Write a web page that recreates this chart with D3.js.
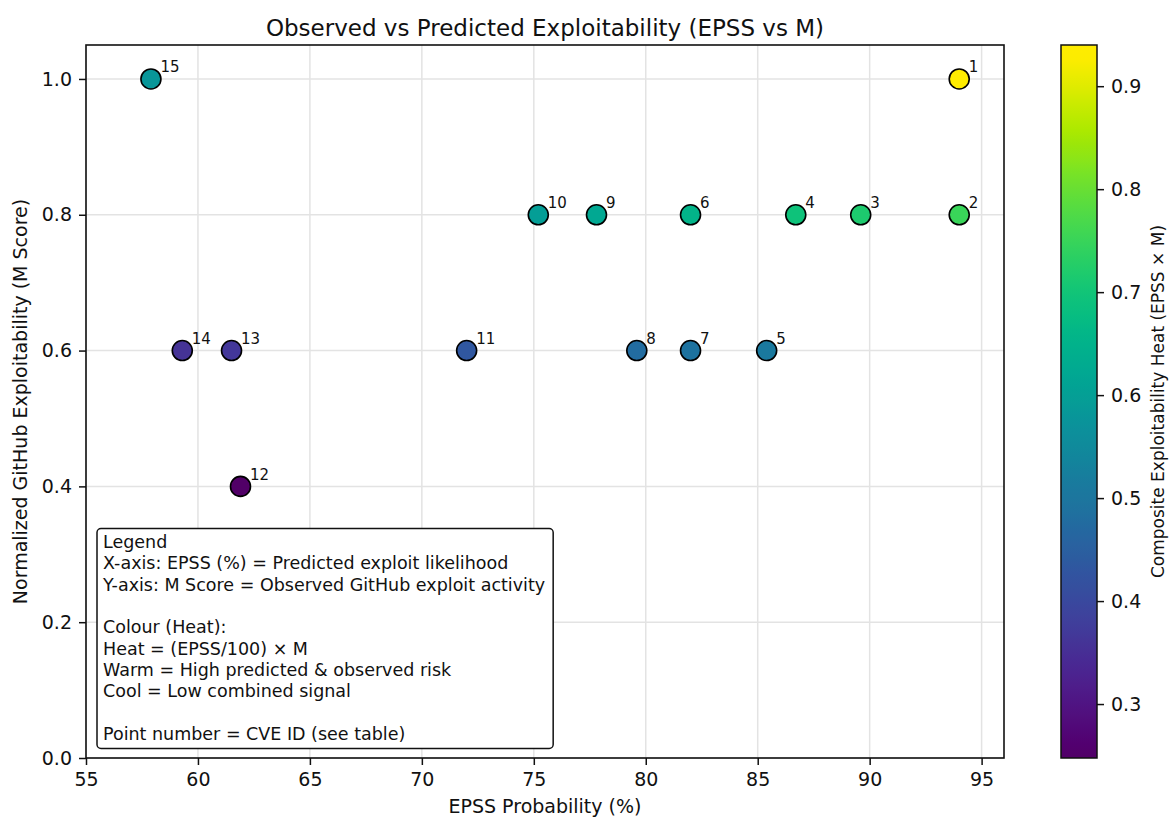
<!DOCTYPE html>
<html>
<head>
<meta charset="utf-8">
<script src="https://cdn.jsdelivr.net/npm/d3@7"></script>
<style>
  html, body { margin: 0; padding: 0; background: #fff; }
  svg { display: block; font-family: "DejaVu Sans", sans-serif; }
</style>
</head>
<body>
<svg id="chart" width="1171" height="818"></svg>
<script>
// ---- Data ----
const pointIds = [1, 2, 3, 4, 5, 6, 7, 8, 9, 10, 11, 12, 13, 14, 15];
const epssValues = [94.0, 94.0, 89.6, 86.7, 85.4, 82.0, 82.0, 79.6, 77.8, 75.2, 72.0, 61.9, 61.5, 59.3, 57.9];
const mScores = [1.0, 0.8, 0.8, 0.8, 0.6, 0.8, 0.6, 0.6, 0.8, 0.8, 0.6, 0.4, 0.6, 0.6, 1.0];
const xTicks = [55, 60, 65, 70, 75, 80, 85, 90, 95];
const yTicks = [0.0, 0.2, 0.4, 0.6, 0.8, 1.0];
const cbTicks = [0.3, 0.4, 0.5, 0.6, 0.7, 0.8, 0.9];
const legendLines = [
  "Legend",
  "X-axis: EPSS (%) = Predicted exploit likelihood",
  "Y-axis: M Score = Observed GitHub exploit activity",
  "",
  "Colour (Heat):",
  "Heat = (EPSS/100) \u00d7 M",
  "Warm = High predicted & observed risk",
  "Cool = Low combined signal",
  "",
  "Point number = CVE ID (see table)"
];
const titleText = "Observed vs Predicted Exploitability (EPSS vs M)";
const xLabelText = "EPSS Probability (%)";
const yLabelText = "Normalized GitHub Exploitability (M Score)";
const cbLabelText = "Composite Exploitability Heat (EPSS \u00d7 M)";

const heat = epssValues.map((e, i) => (e / 100) * mScores[i]);
const points = pointIds.map((id, i) => ({ id, x: epssValues[i], y: mScores[i], h: heat[i] }));

// ---- Layout ----
const svg = d3.select("#chart");
const plot = { left: 86, right: 1004, top: 45, bottom: 758 };
const cb = { left: 1061, right: 1097, top: 45, bottom: 758 };
const ink = "#111";

const x = d3.scaleLinear().domain([55, 96]).range([plot.left, plot.right]);
const y = d3.scaleLinear().domain([0, 1.05]).range([plot.bottom, plot.top]);
const hMin = d3.min(heat), hMax = d3.max(heat);
const norm = d3.scaleLinear().domain([hMin, hMax]).range([0, 1]);
// viridis, slightly more vivid to match the reference rendering
function cmap(t) {
  const c = d3.rgb(d3.interpolateViridis(t));
  const l = 0.299 * c.r + 0.587 * c.g + 0.114 * c.b;
  const k = 1.35;
  return d3.rgb(l + k * (c.r - l), l + k * (c.g - l), l + k * (c.b - l)).clamp().formatHex();
}
const color = h => cmap(norm(h));
const cbScale = d3.scaleLinear().domain([hMin, hMax]).range([cb.bottom, cb.top]);

// Grid
const grid = svg.append("g");
xTicks.forEach(t => grid.append("line")
  .attr("x1", x(t)).attr("x2", x(t)).attr("y1", plot.top).attr("y2", plot.bottom)
  .attr("stroke", "#e3e3e3").attr("stroke-width", 1.5));
yTicks.forEach(t => grid.append("line")
  .attr("x1", plot.left).attr("x2", plot.right).attr("y1", y(t)).attr("y2", y(t))
  .attr("stroke", "#e3e3e3").attr("stroke-width", 1.5));

// Axes
const xAxis = d3.axisBottom(x).tickValues(xTicks).tickFormat(d3.format("d")).tickSizeOuter(0).tickSize(7).tickPadding(8);
const yAxis = d3.axisLeft(y).tickValues(yTicks).tickFormat(d3.format(".1f")).tickSizeOuter(0).tickSize(7).tickPadding(7);
const gx = svg.append("g").attr("transform", `translate(0,${plot.bottom})`).call(xAxis);
const gy = svg.append("g").attr("transform", `translate(${plot.left},0)`).call(yAxis);
[gx, gy].forEach(g => {
  g.select(".domain").remove();
  g.selectAll(".tick line").attr("stroke", ink).attr("stroke-width", 1.5);
  g.selectAll(".tick text").attr("fill", ink).style("font-size", "19px").style("font-family", "DejaVu Sans");
});

// Frame
svg.append("rect").attr("x", plot.left).attr("y", plot.top)
  .attr("width", plot.right - plot.left).attr("height", plot.bottom - plot.top)
  .attr("fill", "none").attr("stroke", ink).attr("stroke-width", 1.6);

// Points
svg.append("g").selectAll("circle").data(points).join("circle")
  .attr("cx", d => x(d.x)).attr("cy", d => y(d.y)).attr("r", 10)
  .attr("fill", d => color(d.h)).attr("stroke", "#000").attr("stroke-width", 1.6);

svg.append("g").selectAll("text").data(points).join("text")
  .attr("x", d => x(d.x) + 9.5).attr("y", d => y(d.y) - 6.5)
  .attr("fill", ink).style("font-size", "15px")
  .text(d => d.id);

// Legend box
const lg = svg.append("g");
const lineH = 21.3;
const textX = plot.left + 17;
const firstBase = 548;
const lgText = lg.append("text").attr("fill", ink).style("font-size", "17.5px");
legendLines.forEach((l, i) => {
  lgText.append("tspan").attr("x", textX).attr("y", firstBase + i * lineH).text(l === "" ? "\u00a0" : l);
});
const bb = lgText.node().getBBox();
lg.insert("rect", "text")
  .attr("x", plot.left + 11).attr("y", 528.5)
  .attr("width", bb.x + bb.width + 8 - (plot.left + 11))
  .attr("height", 748.5 - 528.5)
  .attr("rx", 4).attr("ry", 4)
  .attr("fill", "#fff").attr("stroke", ink).attr("stroke-width", 1.5);

// Title & labels
svg.append("text").attr("x", (plot.left + plot.right) / 2).attr("y", 36)
  .attr("text-anchor", "middle").attr("fill", ink).style("font-size", "23px").text(titleText);
svg.append("text").attr("x", (plot.left + plot.right) / 2).attr("y", 813)
  .attr("text-anchor", "middle").attr("fill", ink).style("font-size", "19px").text(xLabelText);
svg.append("text").attr("transform", `translate(27,${(plot.top + plot.bottom) / 2}) rotate(-90)`)
  .attr("text-anchor", "middle").attr("fill", ink).style("font-size", "19px").text(yLabelText);

// Colorbar
const defs = svg.append("defs");
const grad = defs.append("linearGradient").attr("id", "cbgrad")
  .attr("x1", 0).attr("y1", 1).attr("x2", 0).attr("y2", 0);
d3.range(0, 1.0001, 0.02).forEach(t => grad.append("stop")
  .attr("offset", t).attr("stop-color", cmap(t)));
svg.append("rect").attr("x", cb.left).attr("y", cb.top)
  .attr("width", cb.right - cb.left).attr("height", cb.bottom - cb.top)
  .attr("fill", "url(#cbgrad)").attr("stroke", ink).attr("stroke-width", 1.5);
const cbAxis = d3.axisRight(cbScale).tickValues(cbTicks).tickFormat(d3.format(".1f")).tickSizeOuter(0).tickSize(7).tickPadding(7);
const gcb = svg.append("g").attr("transform", `translate(${cb.right},0)`).call(cbAxis);
gcb.select(".domain").remove();
gcb.selectAll(".tick line").attr("stroke", ink).attr("stroke-width", 1.5);
gcb.selectAll(".tick text").attr("fill", ink).style("font-size", "19px").style("font-family", "DejaVu Sans");
svg.append("text").attr("transform", `translate(1164,${(cb.top + cb.bottom) / 2}) rotate(-90)`)
  .attr("text-anchor", "middle").attr("fill", ink).style("font-size", "17px").text(cbLabelText);
</script>
</body>
</html>
